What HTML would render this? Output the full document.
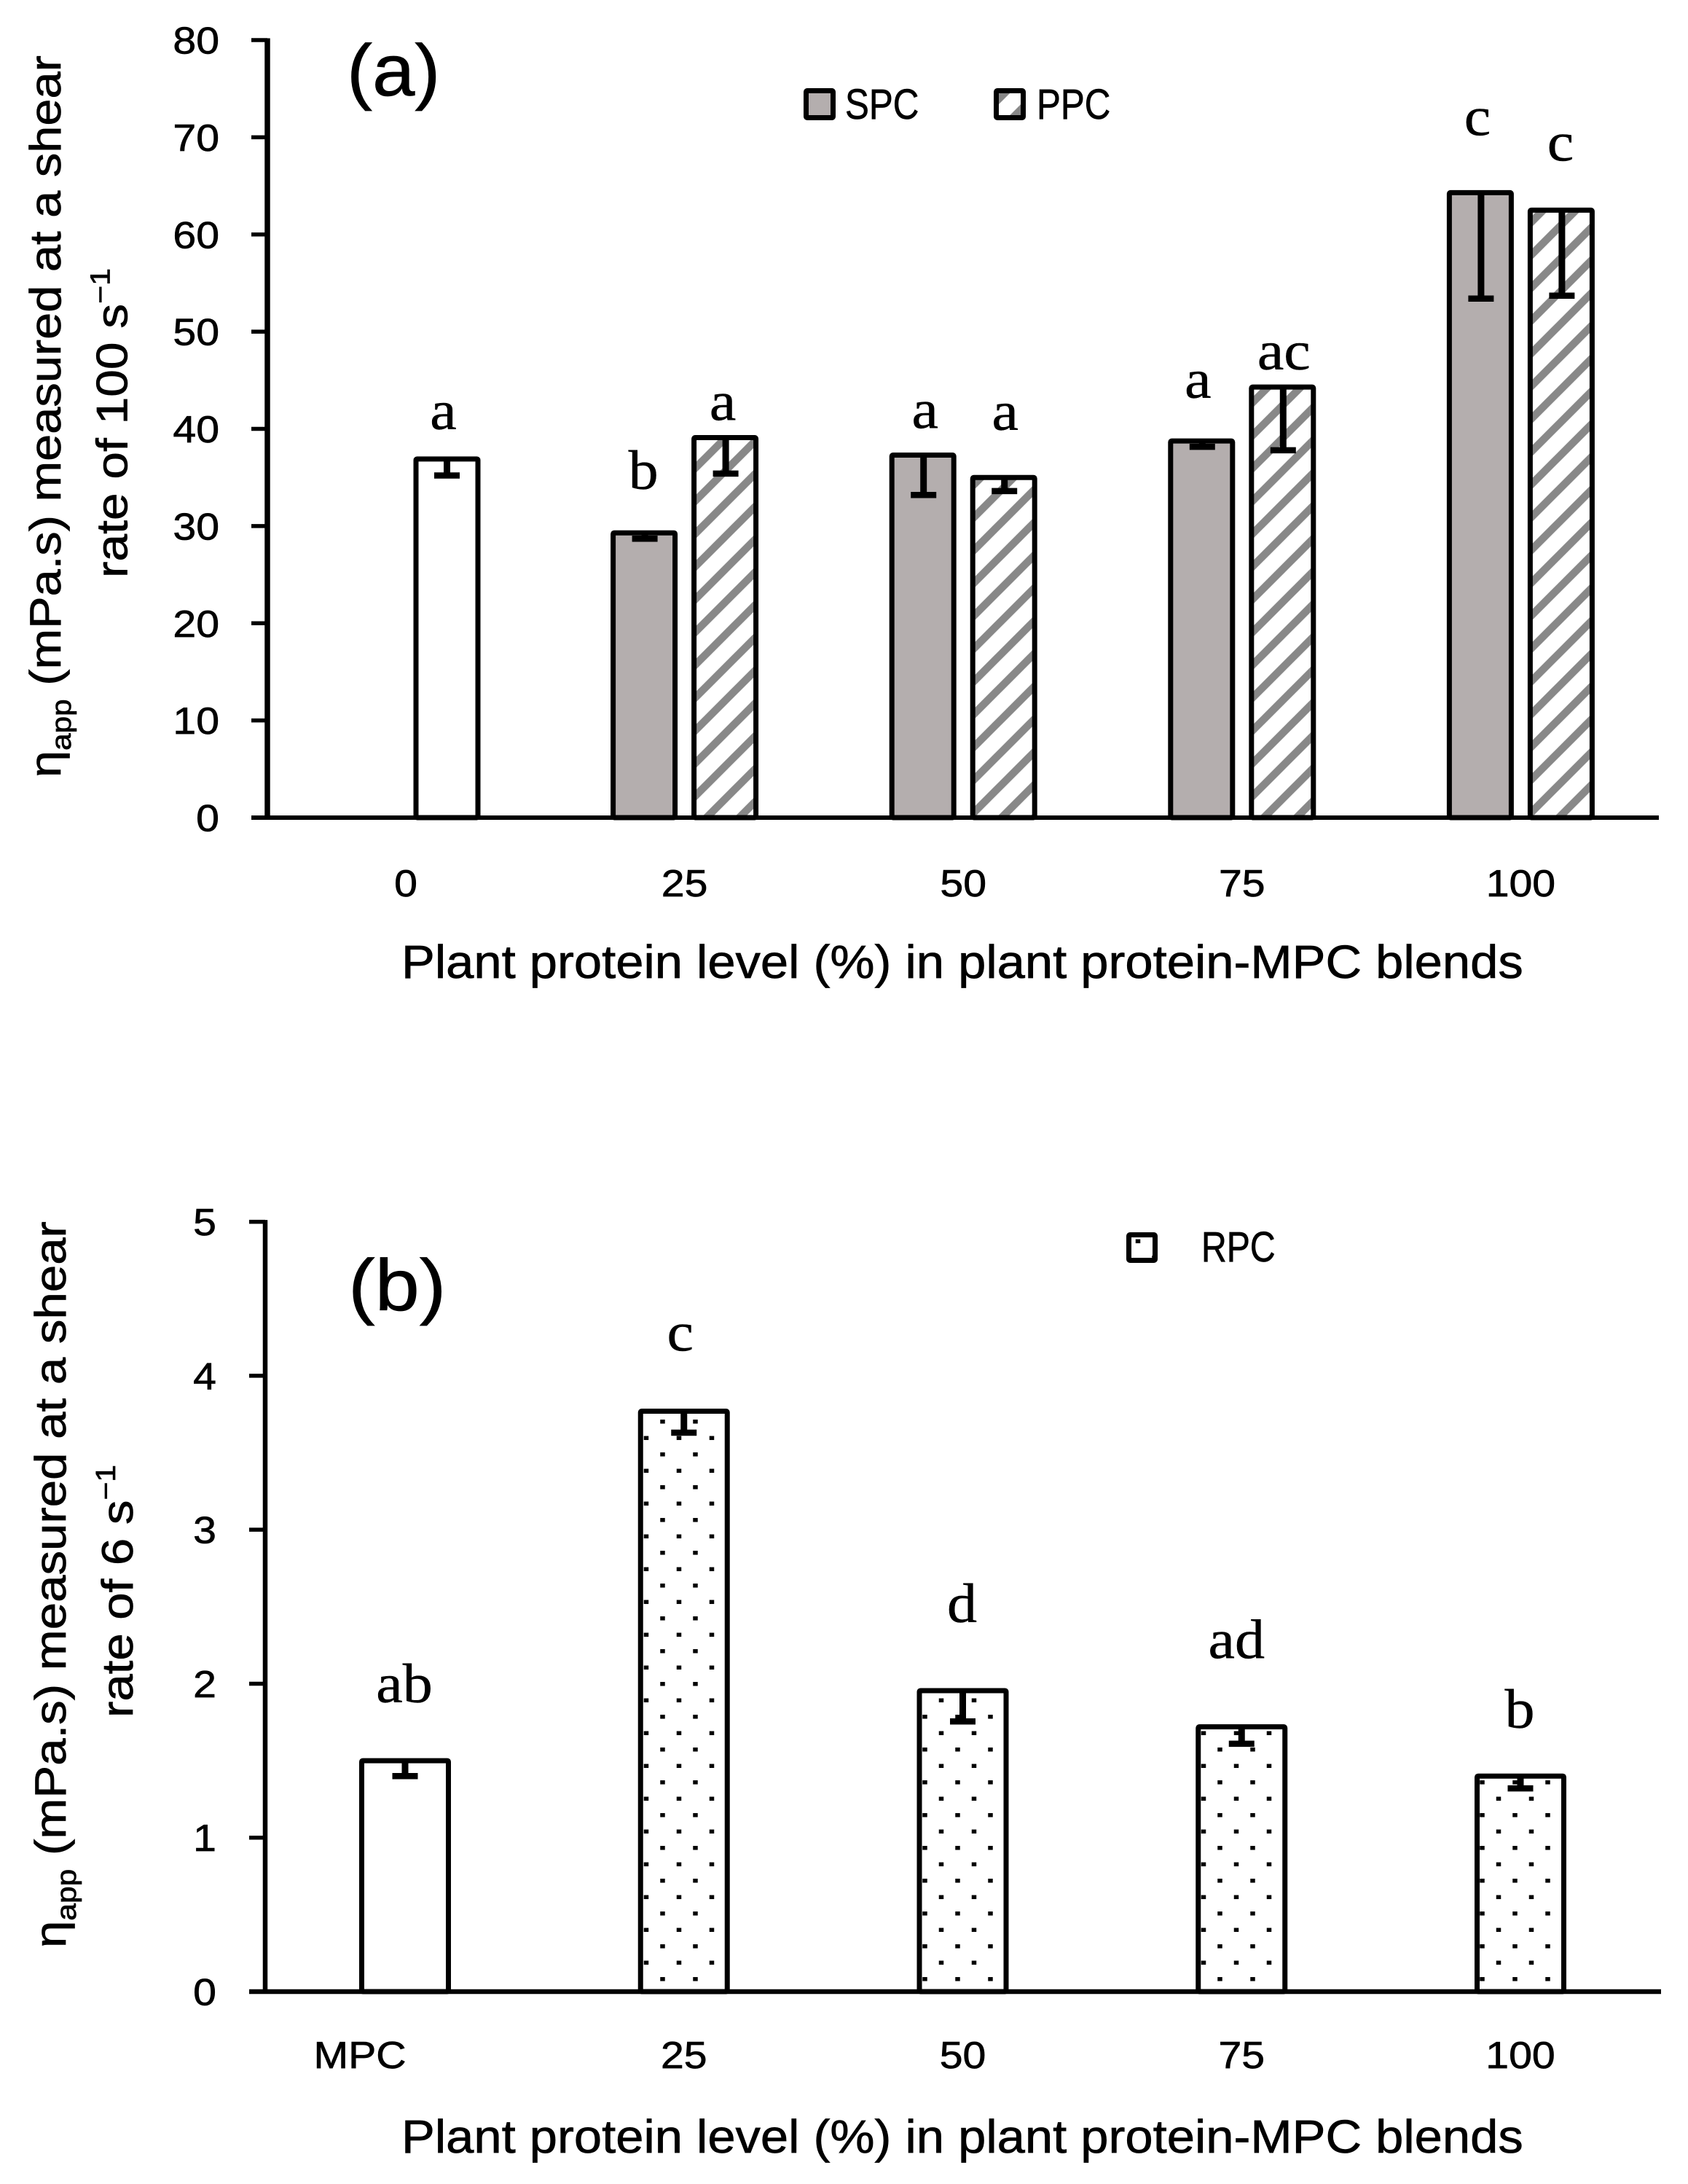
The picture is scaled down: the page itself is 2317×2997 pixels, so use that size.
<!DOCTYPE html>
<html>
<head>
<meta charset="utf-8">
<title>Apparent viscosity of plant protein-MPC blends</title>
<style>
html,body{margin:0;padding:0;background:#fff;}
svg{display:block;}
text{fill:#000;stroke:#000;stroke-width:0.7px;font-family:"Liberation Sans",sans-serif;}
.serif{font-family:"Liberation Serif",serif;stroke-width:0.5px;}
</style>
</head>
<body>
<svg id="chart" xmlns="http://www.w3.org/2000/svg" width="2317" height="2997" viewBox="0 0 2317 2997">
<defs>
<pattern id="hatch" patternUnits="userSpaceOnUse" x="21.7" y="0" width="45" height="45">
<g stroke="#888888" stroke-width="10.5" fill="none">
<line x1="-5" y1="5" x2="5" y2="-5"/>
<line x1="-5" y1="50" x2="50" y2="-5"/>
<line x1="40" y1="50" x2="50" y2="40"/>
</g>
</pattern>
<pattern id="dots" patternUnits="userSpaceOnUse" x="875.75" y="1939.55" width="45" height="45">
<rect x="8" y="31" width="6.5" height="5.5" fill="#000" shape-rendering="crispEdges"/>
<rect x="30.5" y="8.5" width="6.5" height="5.5" fill="#000" shape-rendering="crispEdges"/>
</pattern>
</defs>
<g id="panel-a"></g>
<g id="panel-b"></g>
</svg>
<script>
// ---- Panel (a) data ----
const aCategories = ['0', '25', '50', '75', '100'];
const aYTicks = [0, 10, 20, 30, 40, 50, 60, 70, 80];
const aControlValues = [36.9, null, null, null, null];
const aControlErrors = [1.7, null, null, null, null];
const aSpcValues = [null, 29.3, 37.3, 38.75, 64.3];
const aSpcErrors = [null, 0.6, 4.1, 0.6, 10.9];
const aPpcValues = [null, 39.1, 35.0, 44.3, 62.5];
const aPpcErrors = [null, 3.7, 1.4, 6.5, 8.8];
const aControlLetters = ['a', null, null, null, null];
const aSpcLetters = [null, 'b', 'a', 'a', 'c'];
const aPpcLetters = [null, 'a', 'a', 'ac', 'c'];

// ---- Panel (b) data ----
const bCategories = ['MPC', '25', '50', '75', '100'];
const bYTicks = [0, 1, 2, 3, 4, 5];
const bControlValues = [1.5, null, null, null, null];
const bControlErrors = [0.1, null, null, null, null];
const bRpcValues = [null, 3.77, 1.955, 1.72, 1.4];
const bRpcErrors = [null, 0.14, 0.2, 0.11, 0.08];
const bControlLetters = ['ab', null, null, null, null];
const bRpcLetters = [null, 'c', 'd', 'ad', 'b'];

// ---- Layout (not data) ----
const SVGNS = 'http://www.w3.org/2000/svg';
const layoutA = {x0:557, step:382.6, yZero:1122, yTop:55, yMax:80, axisX:367, tickL:345, xEnd:2277, barW:85, off:55.5,
  axisW:7.5, baseW:6, tickLabelRight:301, xLabelBase:1230, xTitleBase:1342, xTitleX:551, xTitleW:1540};
const layoutB = {x0:556, step:382.75, yZero:2733, yTop:1676.6, yMax:5, axisX:364, tickL:342, xEnd:2280, barW:119,
  axisW:6.5, baseW:6.5, tickLabelRight:297, xLabelBase:2838, xTitleBase:2954, xTitleX:551, xTitleW:1540};
const aSpcLabelShift = [null,[-1,60],[3,37],[-5,59],[-4,79]];
const aPpcLabelShift = [null,[-3,24],[2,65],[2,24],[-1,68]];
const bControlLabelShift = [[-1,80]];
const bRpcLabelShift = [null,[-5,83],[-1,94],[-7,94],[-1,66]];

function el(parent, tag, attrs, name, interactive) {
  const e = document.createElementNS(SVGNS, tag);
  for (const k in attrs) e.setAttribute(k, attrs[k]);
  
  
  parent.appendChild(e);
  return e;
}
function yScale(L, v) { return L.yZero - (v / L.yMax) * (L.yZero - L.yTop); }
function xBand(L, i) { return L.x0 + L.step * i; }

function hText(parent, str, x, y, size, anchor, sx, name, cls) {
  const t = el(parent, 'text', {'font-size':size, 'text-anchor':anchor, transform:'translate('+x+','+y+') scale('+sx+',1)'}, name, false);
  if (cls) t.setAttribute('class', cls);
  t.textContent = str;
  return t;
}
function fitH(t, x, y, target) {
  const len = t.getComputedTextLength();
  t.setAttribute('transform', 'translate('+x+','+y+') scale('+(target/len)+',1)');
}
function fitV(t, x, yBottom, target) {
  const len = t.getComputedTextLength();
  t.setAttribute('transform', 'translate('+x+','+yBottom+') rotate(-90) scale('+(target/len)+',1)');
}
function bar(g, L, cx, value, fill, name) {
  const sw = 7, top = yScale(L, value);
  el(g, 'rect', {x:cx-L.barW/2, y:top, width:L.barW, height:L.yZero-top, fill:fill, stroke:'#000', 'stroke-width':sw, rx:1.5}, name, false);
}
function errorBar(g, L, cx, value, err, name) {
  const top = yScale(L, value), low = yScale(L, value - err);
  el(g, 'line', {x1:cx, x2:cx, y1:top, y2:low, stroke:'#000', 'stroke-width':9}, name + '-stem', false);
  el(g, 'line', {x1:cx-17.5, x2:cx+17.5, y1:low, y2:low, stroke:'#000', 'stroke-width':8.5}, name + '-cap', false);
}
function letter(g, L, cx, value, str, shift, name) {
  hText(g, str, cx + shift[0], yScale(L, value) - shift[1], 76, 'middle', 1.08, name, 'serif');
}
function axes(g, L, ticks, cats, fontSx, labelX) {
  ticks.forEach(function (t) {
    const y = yScale(L, t);
    el(g, 'line', {x1:L.tickL, x2:L.axisX, y1:y, y2:y, stroke:'#000', 'stroke-width':5.5}, 'y-tick-' + t, false);
    hText(g, String(t), L.tickLabelRight, y + 18.5, 52, 'end', fontSx, 'y-tick-label-' + t);
  });
  el(g, 'line', {x1:L.axisX, x2:L.axisX, y1:yScale(L, L.yMax) - 2.5, y2:L.yZero + 3, stroke:'#000', 'stroke-width':L.axisW}, 'y-axis-line', false);
  el(g, 'line', {x1:L.tickL, x2:L.xEnd, y1:L.yZero, y2:L.yZero, stroke:'#000', 'stroke-width':L.baseW}, 'x-axis-line', false);
  cats.forEach(function (c, i) {
    hText(g, c, labelX(i), L.xLabelBase, 52, 'middle', fontSx, 'x-tick-label-' + c);
  });
  const xt = hText(g, 'Plant protein level (%) in plant protein-MPC blends', L.xTitleX, L.xTitleBase, 64, 'start', 1, 'x-axis-title');
  fitH(xt, L.xTitleX, L.xTitleBase, L.xTitleW);
}
function yTitle(g, x1, bottom1, len1, x2, bottom2, len2, line2, sup) {
  const size = 60;
  const t1 = el(g, 'text', {'font-size':size}, 'y-axis-title-line-1', false);
  const a = el(t1, 'tspan', {}, 'eta-symbol', false);
  a.textContent = '\u03b7';
  const b = el(t1, 'tspan', {'font-size':38, dy:14}, 'app-subscript', false);
  b.textContent = 'app';
  const c = el(t1, 'tspan', {dy:-14}, 'y-axis-title-main', false);
  c.textContent = ' (mPa.s) measured at a shear';
  fitV(t1, x1, bottom1, len1);
  const t2 = el(g, 'text', {'font-size':size}, 'y-axis-title-line-2', false);
  const d = el(t2, 'tspan', {}, 'y-axis-title-rate', false);
  d.textContent = line2;
  const e = el(t2, 'tspan', {'font-size':38, dy:-24}, 'unit-superscript', false);
  e.textContent = sup;
  fitV(t2, x2, bottom2, len2);
}

// ---- Panel (a) ----
(function () {
  const g = document.getElementById('panel-a');
  const L = layoutA;
  aCategories.forEach(function (c, i) {
    const cx = xBand(L, i);
    if (aControlValues[i] !== null) {
      const x = cx + L.off + 1;
      bar(g, L, x, aControlValues[i], '#ffffff', 'bar-control-' + c);
      errorBar(g, L, x, aControlValues[i], aControlErrors[i], 'error-control-' + c);
      letter(g, L, x, aControlValues[i], aControlLetters[i], [-5, 41], 'letter-control-' + c);
    }
    if (aSpcValues[i] !== null) {
      const x = cx - L.off;
      bar(g, L, x, aSpcValues[i], '#b4aeae', 'bar-spc-' + c);
      errorBar(g, L, x + 1, aSpcValues[i], aSpcErrors[i], 'error-spc-' + c);
      letter(g, L, x, aSpcValues[i], aSpcLetters[i], aSpcLabelShift[i], 'letter-spc-' + c);
    }
    if (aPpcValues[i] !== null) {
      const x = cx + L.off;
      bar(g, L, x, aPpcValues[i], 'url(#hatch)', 'bar-ppc-' + c);
      errorBar(g, L, x + 1, aPpcValues[i], aPpcErrors[i], 'error-ppc-' + c);
      letter(g, L, x, aPpcValues[i], aPpcLetters[i], aPpcLabelShift[i], 'letter-ppc-' + c);
    }
  });
  axes(g, L, aYTicks, aCategories, 1.1, function (i) { return xBand(L, i); });
  yTitle(g, 83, 1067, 991, 174.5, 793, 425, 'rate of 100 s', '\u22121');
  hText(g, '(a)', 476, 131, 100, 'start', 1.05, 'panel-label-a');
  el(g, 'rect', {x:1106.5, y:124.5, width:37, height:37, fill:'#b4aeae', stroke:'#000', 'stroke-width':7, rx:1.5}, 'legend-swatch-spc', false);
  hText(g, 'SPC', 1160, 163, 58, 'start', 0.85, 'legend-label-spc');
  el(g, 'rect', {x:1367.5, y:124.5, width:37, height:37, fill:'url(#hatch)', stroke:'#000', 'stroke-width':7, rx:1.5}, 'legend-swatch-ppc', false);
  hText(g, 'PPC', 1423, 163, 58, 'start', 0.85, 'legend-label-ppc');
})();

// ---- Panel (b) ----
(function () {
  const g = document.getElementById('panel-b');
  const L = layoutB;
  bCategories.forEach(function (c, i) {
    const x = xBand(L, i);
    if (bControlValues[i] !== null) {
      bar(g, L, x, bControlValues[i], '#ffffff', 'bar-mpc');
      errorBar(g, L, x, bControlValues[i], bControlErrors[i], 'error-mpc');
      letter(g, L, x, bControlValues[i], bControlLetters[i], bControlLabelShift[i], 'letter-mpc');
    }
    if (bRpcValues[i] !== null) {
      bar(g, L, x, bRpcValues[i], 'url(#dots)', 'bar-rpc-' + c);
      errorBar(g, L, x, bRpcValues[i], bRpcErrors[i], 'error-rpc-' + c);
      letter(g, L, x, bRpcValues[i], bRpcLetters[i], bRpcLabelShift[i], 'letter-rpc-' + c);
    }
  });
  axes(g, L, bYTicks, bCategories, 1.1, function (i) { return i === 0 ? 494 : xBand(L, i); });
  yTitle(g, 90, 2673, 997, 182, 2357, 347, 'rate of 6 s', '\u22121');
  hText(g, '(b)', 478, 1798, 100, 'start', 1.1, 'panel-label-b');
  el(g, 'rect', {x:1549.5, y:1694.5, width:36, height:35, fill:'url(#dots)', stroke:'#000', 'stroke-width':7, rx:1.5}, 'legend-swatch-rpc', false);
  hText(g, 'RPC', 1649, 1731, 58, 'start', 0.83, 'legend-label-rpc');
})();
</script>
</body>
</html>
